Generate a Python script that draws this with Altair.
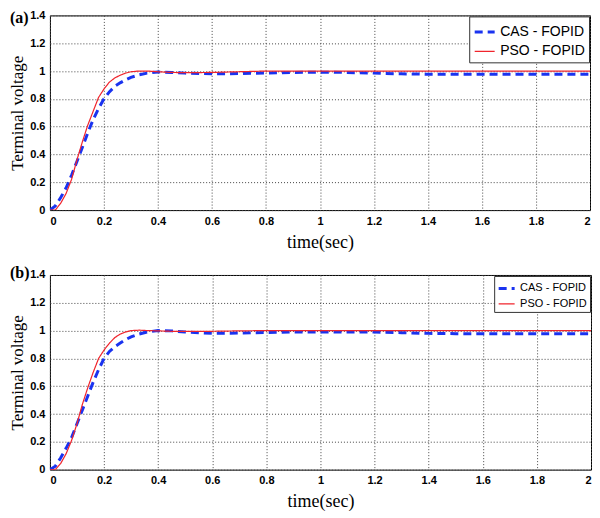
import altair as alt
import pandas as pd

time = [0, 0.02, 0.04, 0.06, 0.08, 0.10, 0.12, 0.14, 0.16, 0.18, 0.20, 0.22, 0.24,
        0.26, 0.28, 0.30, 0.33, 0.36, 0.40, 0.45, 0.5, 0.6, 0.7, 0.8, 0.9, 1.0,
        1.1, 1.2, 1.3, 1.4, 1.5, 1.6, 1.8, 2.0]

cas_a = [0, 0.03, 0.09, 0.16, 0.25, 0.35, 0.45, 0.555, 0.65, 0.73, 0.80, 0.85, 0.89,
         0.915, 0.937, 0.955, 0.972, 0.985, 0.993, 0.99, 0.985, 0.98, 0.982, 0.986, 0.99, 0.992,
         0.99, 0.985, 0.98, 0.977, 0.977, 0.977, 0.977, 0.977]
pso_a = [0, 0.0, 0.05, 0.12, 0.22, 0.36, 0.49, 0.61, 0.71, 0.81, 0.87, 0.92, 0.95,
         0.97, 0.985, 0.995, 1.0, 1.0, 0.995, 0.99, 0.988, 0.99, 0.995, 1.0, 1.0, 1.0,
         1.0, 1.0, 1.0, 1.0, 1.0, 1.0, 1.0, 1.0]

cas_b = [0, 0.025, 0.085, 0.155, 0.23, 0.33, 0.43, 0.53, 0.63, 0.72, 0.80, 0.85, 0.885,
         0.91, 0.935, 0.955, 0.975, 0.99, 1.0, 0.998, 0.99, 0.98, 0.982, 0.986, 0.99, 0.99,
         0.99, 0.99, 0.985, 0.98, 0.978, 0.978, 0.978, 0.978]
pso_b = [0, 0.0, 0.045, 0.115, 0.21, 0.33, 0.47, 0.59, 0.70, 0.80, 0.86, 0.91, 0.95,
         0.975, 0.99, 1.0, 1.003, 1.0, 0.998, 0.995, 0.995, 0.995, 0.998, 1.0, 1.0, 1.0,
         1.0, 1.0, 1.0, 1.0, 1.0, 1.0, 1.0, 1.0]

series_names = ["CAS - FOPID", "PSO - FOPID"]
series_colors = ["#1a33f0", "#f0242c"]
x_ticks = [0, 0.2, 0.4, 0.6, 0.8, 1, 1.2, 1.4, 1.6, 1.8, 2]
y_ticks = [0, 0.2, 0.4, 0.6, 0.8, 1, 1.2, 1.4]


def panel(cas, pso, tag, tag_y, width, height, legend_font, legend_sym, legend_row, legend_pad):
    n = len(time)
    df = pd.DataFrame({
        "time": time + time,
        "value": cas + pso,
        "series": [series_names[0]] * n + [series_names[1]] * n,
    })
    legend = alt.Legend(
        title=None, orient="top-right", offset=1, fillColor="white",
        strokeColor="#333", padding=legend_pad, labelFont="Liberation Sans",
        labelFontSize=legend_font, labelColor="black", symbolType="stroke",
        symbolSize=legend_sym, rowPadding=legend_row, labelOffset=4,
    )
    lines = alt.Chart(df).mark_line(clip=True).encode(
        x=alt.X("time:Q", scale=alt.Scale(domain=[0, 2], nice=False),
                axis=alt.Axis(values=x_ticks, format="~g", title="time(sec)",
                              titleFontSize=18, titlePadding=7)),
        y=alt.Y("value:Q", scale=alt.Scale(domain=[0, 1.4], nice=False),
                axis=alt.Axis(values=y_ticks, format="~g", title="Terminal voltage",
                              titleFontSize=17, titlePadding=3)),
        color=alt.Color("series:N", scale=alt.Scale(domain=series_names, range=series_colors),
                        legend=legend),
        strokeDash=alt.StrokeDash("series:N",
                                  scale=alt.Scale(domain=series_names, range=[[8, 5], [1, 0]]),
                                  legend=legend),
        strokeWidth=alt.StrokeWidth("series:N",
                                    scale=alt.Scale(domain=series_names, range=[3, 1.2]),
                                    legend=legend),
    )
    label = alt.Chart(pd.DataFrame({"tag": [tag]})).mark_text(
        font="Liberation Serif", fontWeight="bold", fontSize=16,
        align="left", baseline="middle", color="black",
    ).encode(text="tag:N", x=alt.value(-40), y=alt.value(tag_y))
    return alt.layer(lines, label).properties(width=width, height=height)


top = panel(cas_a, pso_a, "(a)", 3, 541, 195, 14, 400, 1, 4)
bottom = panel(cas_b, pso_b, "(b)", -2, 542, 195, 11, 256, 0, 3)

chart = alt.vconcat(top, bottom, spacing=12).resolve_scale(
    color="independent", strokeDash="independent", strokeWidth="independent"
).properties(padding=0).configure_view(
    stroke="black", strokeWidth=1
).configure_axis(
    grid=True, gridColor="#444", gridDash=[1, 2], gridOpacity=1, gridWidth=1,
    domain=False, ticks=False,
    labelFont="Liberation Sans", labelFontWeight="bold", labelFontSize=11,
    labelColor="black", labelPadding=5,
    titleFont="Liberation Serif", titleFontWeight="normal", titleColor="black",
)

chart.save("out.html", embed_options={"renderer": "svg", "actions": False})
